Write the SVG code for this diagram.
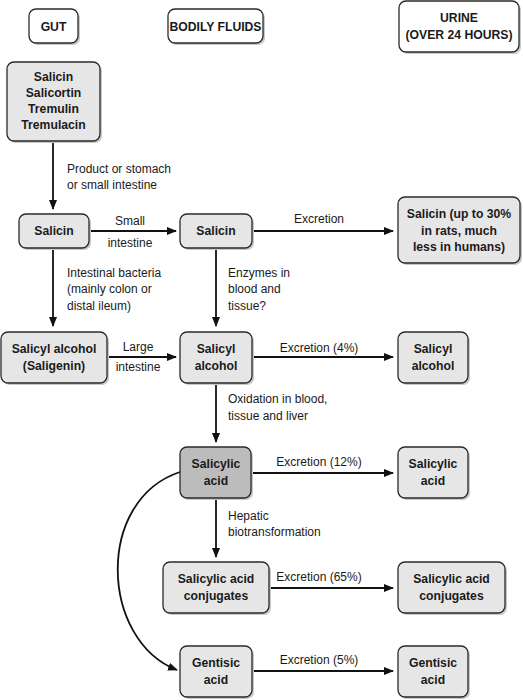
<svg xmlns="http://www.w3.org/2000/svg" width="523" height="700" viewBox="0 0 523 700">
<style>
.box{fill:#fff;stroke:#2a2a2a;stroke-width:1.3}
.lt{fill:#e6e6e6;stroke:#2a2a2a;stroke-width:1.3}
.dk{fill:#bcbcbc;stroke:#2a2a2a;stroke-width:1.3}
.sh{fill:#c8c8c8;stroke:none}
.nt{font-family:"Liberation Sans",Arial,sans-serif;font-size:12.2px;font-weight:bold;fill:#1a1a1a;text-anchor:middle}
.lb{font-family:"Liberation Sans",Arial,sans-serif;font-size:12px;fill:#1a1a1a}
.lbc{font-family:"Liberation Sans",Arial,sans-serif;font-size:12px;fill:#1a1a1a;text-anchor:middle}
.ln{fill:none;stroke:#111;stroke-width:1.8}
</style>
<defs>
<marker id="ah" markerWidth="10" markerHeight="8" refX="9" refY="4" orient="auto" markerUnits="userSpaceOnUse">
<path d="M0,0 L10,4 L0,8 Z" fill="#111"/>
</marker>
</defs>
<rect width="523" height="700" fill="#fff"/>

<g id="connectors">
<line class="ln" x1="53" y1="141" x2="53" y2="209" marker-end="url(#ah)"/>
<line class="ln" x1="89" y1="231" x2="176" y2="231" marker-end="url(#ah)"/>
<line class="ln" x1="252" y1="231" x2="393" y2="231" marker-end="url(#ah)"/>
<line class="ln" x1="53" y1="248" x2="53" y2="326" marker-end="url(#ah)"/>
<line class="ln" x1="216" y1="248" x2="216" y2="326" marker-end="url(#ah)"/>
<line class="ln" x1="107" y1="357" x2="176" y2="357" marker-end="url(#ah)"/>
<line class="ln" x1="252" y1="357" x2="393" y2="357" marker-end="url(#ah)"/>
<line class="ln" x1="216" y1="383" x2="216" y2="442" marker-end="url(#ah)"/>
<line class="ln" x1="252" y1="473" x2="393" y2="473" marker-end="url(#ah)"/>
<line class="ln" x1="216" y1="498" x2="216" y2="557" marker-end="url(#ah)"/>
<line class="ln" x1="269" y1="588" x2="393" y2="588" marker-end="url(#ah)"/>
<line class="ln" x1="252" y1="671" x2="393" y2="671" marker-end="url(#ah)"/>
<path class="ln" d="M180,472 C95,500 100,640 177,670" marker-end="url(#ah)"/>
<text class="lb" x="67" y="173">Product or stomach</text>
<text class="lb" x="67" y="189">or small intestine</text>
<text class="lbc" x="130" y="225">Small</text>
<text class="lbc" x="130" y="247">intestine</text>
<text class="lbc" x="319" y="223">Excretion</text>
<text class="lb" x="67" y="277">Intestinal bacteria</text>
<text class="lb" x="67" y="293">(mainly colon or</text>
<text class="lb" x="67" y="310">distal ileum)</text>
<text class="lb" x="228" y="277">Enzymes in</text>
<text class="lb" x="228" y="293">blood and</text>
<text class="lb" x="228" y="310">tissue?</text>
<text class="lbc" x="138" y="351">Large</text>
<text class="lbc" x="138" y="371">intestine</text>
<text class="lbc" x="319" y="352">Excretion (4%)</text>
<text class="lb" x="228" y="403">Oxidation in blood,</text>
<text class="lb" x="228" y="420">tissue and liver</text>
<text class="lbc" x="319" y="466">Excretion (12%)</text>
<text class="lb" x="228" y="520">Hepatic</text>
<text class="lb" x="228" y="536">biotransformation</text>
<text class="lbc" x="319" y="581">Excretion (65%)</text>
<text class="lbc" x="319" y="664">Excretion (5%)</text>
</g>

<g id="gut-header">
<rect class="sh" x="31" y="11" width="49" height="34" rx="7"/>
<rect class="box" x="29" y="9" width="49" height="34" rx="7"/>
<text class="nt" x="53.5" y="30.5">GUT</text>
</g>
<g id="fluids-header">
<rect class="sh" x="170" y="11" width="95" height="34" rx="7"/>
<rect class="box" x="168" y="9" width="95" height="34" rx="7"/>
<text class="nt" x="215.5" y="30.5" textLength="92" lengthAdjust="spacingAndGlyphs">BODILY FLUIDS</text>
</g>
<g id="urine-header">
<rect class="sh" x="401" y="3" width="120" height="51" rx="7"/>
<rect class="box" x="399" y="1" width="120" height="51" rx="7"/>
<text class="nt" x="459" y="22">URINE</text>
<text class="nt" x="459" y="39">(OVER 24 HOURS)</text>
</g>

<g id="n-sources">
<rect class="sh" x="9" y="64" width="93" height="79" rx="7"/>
<rect class="lt" x="7" y="62" width="93" height="79" rx="7"/>
<text class="nt" x="53.5" y="81">Salicin</text>
<text class="nt" x="53.5" y="97">Salicortin</text>
<text class="nt" x="53.5" y="113">Tremulin</text>
<text class="nt" x="53.5" y="129">Tremulacin</text>
</g>
<g id="n-salicin-gut">
<rect class="sh" x="21" y="216" width="70" height="34" rx="7"/>
<rect class="lt" x="19" y="214" width="70" height="34" rx="7"/>
<text class="nt" x="54" y="235">Salicin</text>
</g>
<g id="n-salicin-fluids">
<rect class="sh" x="182" y="216" width="72" height="34" rx="7"/>
<rect class="lt" x="180" y="214" width="72" height="34" rx="7"/>
<text class="nt" x="216" y="235">Salicin</text>
</g>
<g id="n-salicin-urine">
<rect class="sh" x="400" y="199" width="122" height="66" rx="7"/>
<rect class="lt" x="398" y="197" width="122" height="66" rx="7"/>
<text class="nt" x="459" y="218">Salicin (up to 30%</text>
<text class="nt" x="459" y="235">in rats, much</text>
<text class="nt" x="459" y="251">less in humans)</text>
</g>
<g id="n-saligenin">
<rect class="sh" x="3" y="334" width="106" height="51" rx="7"/>
<rect class="lt" x="1" y="332" width="106" height="51" rx="7"/>
<text class="nt" x="54" y="353">Salicyl alcohol</text>
<text class="nt" x="54" y="370">(Saligenin)</text>
</g>
<g id="n-salicyl-fluids">
<rect class="sh" x="182" y="334" width="72" height="51" rx="7"/>
<rect class="lt" x="180" y="332" width="72" height="51" rx="7"/>
<text class="nt" x="216" y="353">Salicyl</text>
<text class="nt" x="216" y="370">alcohol</text>
</g>
<g id="n-salicyl-urine">
<rect class="sh" x="400" y="334" width="70" height="51" rx="7"/>
<rect class="lt" x="398" y="332" width="70" height="51" rx="7"/>
<text class="nt" x="433" y="353">Salicyl</text>
<text class="nt" x="433" y="370">alcohol</text>
</g>
<g id="n-salicylic-fluids">
<rect class="sh" x="182" y="449" width="71" height="51" rx="7"/>
<rect class="dk" x="180" y="447" width="71" height="51" rx="7"/>
<text class="nt" x="216" y="468">Salicylic</text>
<text class="nt" x="216" y="485">acid</text>
</g>
<g id="n-salicylic-urine">
<rect class="sh" x="400" y="449" width="70" height="51" rx="7"/>
<rect class="lt" x="398" y="447" width="70" height="51" rx="7"/>
<text class="nt" x="433" y="468">Salicylic</text>
<text class="nt" x="433" y="485">acid</text>
</g>
<g id="n-conj-fluids">
<rect class="sh" x="165" y="564" width="106" height="51" rx="7"/>
<rect class="lt" x="163" y="562" width="106" height="51" rx="7"/>
<text class="nt" x="216" y="583">Salicylic acid</text>
<text class="nt" x="216" y="600">conjugates</text>
</g>
<g id="n-conj-urine">
<rect class="sh" x="400" y="564" width="107" height="51" rx="7"/>
<rect class="lt" x="398" y="562" width="107" height="51" rx="7"/>
<text class="nt" x="451.5" y="583">Salicylic acid</text>
<text class="nt" x="451.5" y="600">conjugates</text>
</g>
<g id="n-gentisic-fluids">
<rect class="sh" x="182" y="648" width="72" height="51" rx="7"/>
<rect class="lt" x="180" y="646" width="72" height="51" rx="7"/>
<text class="nt" x="216" y="667">Gentisic</text>
<text class="nt" x="216" y="684">acid</text>
</g>
<g id="n-gentisic-urine">
<rect class="sh" x="400" y="648" width="70" height="51" rx="7"/>
<rect class="lt" x="398" y="646" width="70" height="51" rx="7"/>
<text class="nt" x="433" y="667">Gentisic</text>
<text class="nt" x="433" y="684">acid</text>
</g>
</svg>
